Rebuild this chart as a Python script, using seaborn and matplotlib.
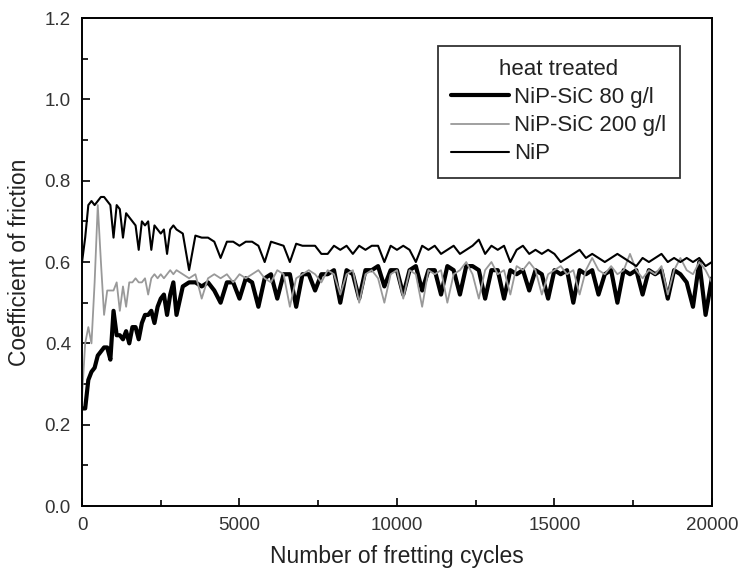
import numpy as np
import pandas as pd
import matplotlib
matplotlib.use('Agg')
import matplotlib.pyplot as plt
from matplotlib.ticker import MultipleLocator
import seaborn as sns

sns.set_style('ticks')
plt.rcParams['font.family'] = ['Liberation Sans', 'DejaVu Sans']

# fretting cycles (digitised grid: 100 steps early, 200 steps later)
cycles = np.concatenate([np.arange(0, 3001, 100), np.arange(3200, 20001, 200)])

# NiP-SiC 80 g/l (thick black)
sic80 = [0.24, 0.24, 0.31, 0.33, 0.34, 0.37, 0.38, 0.39, 0.39, 0.36,
         0.48, 0.42, 0.42, 0.41, 0.43, 0.40, 0.44, 0.44, 0.41, 0.45,
         0.47, 0.47, 0.48, 0.45, 0.49, 0.51, 0.52, 0.47, 0.52, 0.55,
         0.47,
         0.54, 0.55, 0.55, 0.54, 0.55, 0.53, 0.50, 0.55, 0.55, 0.51,
         0.56, 0.55, 0.49, 0.56, 0.57, 0.51, 0.57, 0.57, 0.49, 0.57,
         0.57, 0.53, 0.57, 0.57, 0.58, 0.50, 0.58, 0.57, 0.51, 0.58,
         0.58, 0.59, 0.54, 0.58, 0.58, 0.52, 0.58, 0.59, 0.53, 0.58,
         0.58, 0.52, 0.59, 0.58, 0.52, 0.59, 0.59, 0.58, 0.51, 0.58,
         0.58, 0.51, 0.58, 0.57, 0.58, 0.53, 0.58, 0.57, 0.51, 0.58,
         0.57, 0.58, 0.50, 0.58, 0.57, 0.58, 0.52, 0.57, 0.58, 0.50,
         0.58, 0.57, 0.58, 0.52, 0.58, 0.57, 0.58, 0.51, 0.58, 0.57,
         0.55, 0.49, 0.60, 0.47, 0.56]

# NiP-SiC 200 g/l (thin grey)
sic200 = [0.27, 0.40, 0.44, 0.40, 0.55, 0.74, 0.60, 0.47, 0.53, 0.53,
          0.53, 0.55, 0.48, 0.54, 0.49, 0.55, 0.55, 0.56, 0.55, 0.55,
          0.56, 0.52, 0.56, 0.57, 0.56, 0.57, 0.56, 0.57, 0.58, 0.57,
          0.58,
          0.57, 0.56, 0.57, 0.51, 0.56, 0.57, 0.56, 0.57, 0.55, 0.57,
          0.56, 0.57, 0.58, 0.56, 0.55, 0.58, 0.57, 0.49, 0.56, 0.57,
          0.58, 0.57, 0.55, 0.58, 0.57, 0.52, 0.57, 0.58, 0.50, 0.57,
          0.58, 0.56, 0.50, 0.57, 0.58, 0.51, 0.58, 0.57, 0.49, 0.58,
          0.57, 0.58, 0.50, 0.57, 0.58, 0.60, 0.57, 0.51, 0.58, 0.60,
          0.57, 0.58, 0.52, 0.59, 0.58, 0.60, 0.58, 0.52, 0.57, 0.58,
          0.59, 0.57, 0.58, 0.52, 0.58, 0.61, 0.58, 0.57, 0.59, 0.57,
          0.58, 0.62, 0.58, 0.56, 0.58, 0.57, 0.59, 0.52, 0.58, 0.61,
          0.58, 0.57, 0.60, 0.58, 0.55]

# NiP (medium black)
nip = [0.60, 0.66, 0.74, 0.75, 0.74, 0.75, 0.76, 0.76, 0.75, 0.74,
       0.66, 0.74, 0.73, 0.66, 0.72, 0.71, 0.70, 0.69, 0.63, 0.70,
       0.69, 0.70, 0.63, 0.69, 0.68, 0.67, 0.68, 0.62, 0.68, 0.69,
       0.68,
       0.67, 0.58, 0.665, 0.66, 0.66, 0.65, 0.61, 0.65, 0.65, 0.64,
       0.65, 0.65, 0.64, 0.60, 0.65, 0.645, 0.64, 0.60, 0.645, 0.64,
       0.64, 0.64, 0.62, 0.62, 0.64, 0.63, 0.64, 0.62, 0.64, 0.63,
       0.64, 0.64, 0.60, 0.64, 0.63, 0.64, 0.63, 0.60, 0.64, 0.63,
       0.64, 0.62, 0.63, 0.64, 0.62, 0.63, 0.64, 0.655, 0.62, 0.64,
       0.63, 0.64, 0.60, 0.63, 0.64, 0.62, 0.63, 0.62, 0.63, 0.62,
       0.60, 0.61, 0.62, 0.63, 0.61, 0.62, 0.61, 0.60, 0.61, 0.62,
       0.61, 0.60, 0.59, 0.61, 0.60, 0.61, 0.62, 0.60, 0.61, 0.60,
       0.61, 0.60, 0.61, 0.59, 0.60]

assert len(sic80) == len(cycles) == len(sic200) == len(nip)

fig = plt.figure(figsize=(7.41, 5.81), dpi=100)
ax = fig.add_axes([0.1107, 0.129, 0.850, 0.840])

sns.lineplot(x=cycles, y=sic80, ax=ax, color='black', linewidth=3.0,
             label='NiP-SiC 80 g/l')
sns.lineplot(x=cycles, y=sic200, ax=ax, color='#999999', linewidth=1.3,
             label='NiP-SiC 200 g/l')
sns.lineplot(x=cycles, y=nip, ax=ax, color='black', linewidth=1.5,
             label='NiP')

ax.set_xlim(0, 20000)
ax.set_ylim(0, 1.2)
ax.xaxis.set_major_locator(MultipleLocator(5000))
ax.xaxis.set_minor_locator(MultipleLocator(2500))
ax.yaxis.set_major_locator(MultipleLocator(0.2))
ax.yaxis.set_minor_locator(MultipleLocator(0.1))
ax.yaxis.set_major_formatter(plt.FormatStrFormatter('%.1f'))
ax.tick_params(which='both', direction='in', top=False, right=False,
               colors='black', labelcolor='#333333', labelsize=13.5, width=1.2)
ax.tick_params(which='major', length=6, pad=8)
ax.tick_params(which='minor', length=4)
for s in ax.spines.values():
    s.set_linewidth(1.4)
    s.set_color('black')

ax.set_xlabel('Number of fretting cycles', fontsize=16.5, color='#222222', labelpad=8)
ax.set_ylabel('Coefficient of friction', fontsize=16.5, color='#222222', labelpad=10)

leg = ax.legend(title='heat treated', loc='upper right', bbox_to_anchor=(0.949, 0.943),
                fontsize=16, title_fontsize=16, frameon=True, fancybox=False,
                edgecolor='black', handlelength=2.6, handletextpad=0.25,
                borderpad=0.6, labelspacing=0.32, borderaxespad=0)
leg.get_frame().set_linewidth(1.3)
leg.get_title().set_color('#222222')
for t in leg.get_texts():
    t.set_color('#222222')

fig.savefig('out.png', dpi=100)
